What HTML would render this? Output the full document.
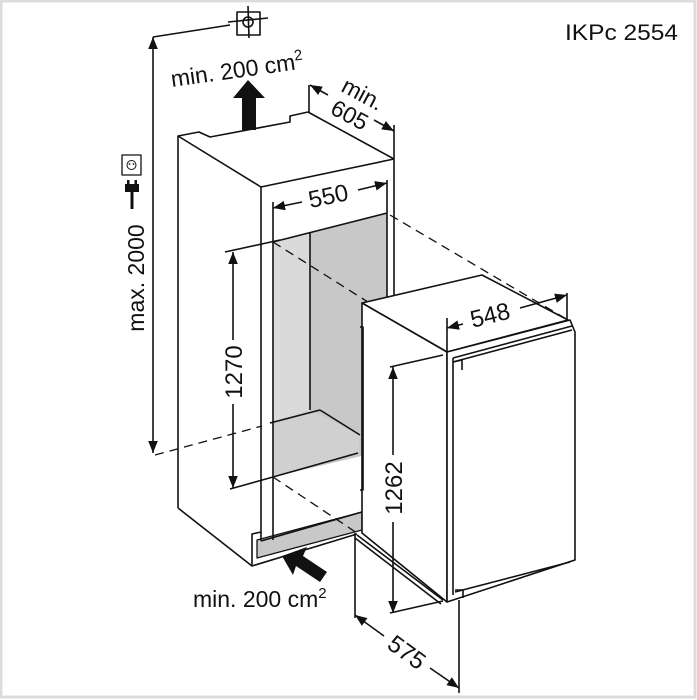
<!DOCTYPE html>
<html><head><meta charset="utf-8"><style>
html,body{margin:0;padding:0;background:#fff;}
svg{display:block;}
text{font-family:"Liberation Sans",Arial,sans-serif;fill:#111;}
</style></head><body>
<svg width="697" height="700" viewBox="0 0 697 700" xmlns="http://www.w3.org/2000/svg">
<defs>
<marker id="ah" viewBox="0 0 10 10" refX="10" refY="5" markerWidth="12" markerHeight="12" markerUnits="userSpaceOnUse" orient="auto-start-reverse">
<path d="M0,1 L10,5 L0,9 Z" fill="#111"/></marker>
</defs>
<rect x="0" y="0" width="697" height="700" fill="#fff"/>
<rect x="1" y="1" width="694" height="696" fill="none" stroke="#dcdcdc" stroke-width="3"/>

<g stroke="#111" stroke-width="1.6" fill="none" stroke-linejoin="round">
<polygon points="273,242 387,213 387,450 273,477" fill="#c8c8c8" stroke="none"/>
<polygon points="273,242 310,233 310,410 273,422" fill="#dadada" stroke="none"/>
<polygon points="310,410 360,435 358,453 273,477 273,422" fill="#d0d0d0" stroke="none"/>
<polygon points="257,540 362,512 362,530 257,558" fill="#c8c8c8" stroke="#111" stroke-width="1.3"/>

<polyline points="178,508 178,136 199,132 210,137 290,122 290,116 308,112 394,159"/>
<line x1="178" y1="136" x2="261" y2="187"/>
<line x1="261" y1="187" x2="394" y2="159"/>
<line x1="394" y1="159" x2="394" y2="298"/>
<line x1="387" y1="180" x2="387" y2="298"/>
<line x1="261" y1="187" x2="261" y2="541"/>
<line x1="273" y1="202" x2="273" y2="540"/>
<line x1="273" y1="242" x2="387" y2="213"/>
<line x1="310" y1="233" x2="310" y2="410"/>
<line x1="270" y1="423" x2="320" y2="410"/>
<line x1="320" y1="410" x2="360" y2="435"/>
<line x1="273" y1="477" x2="358" y2="453"/>
<polyline points="178,508 252,566 357,534"/>
<polyline points="252,566 252,534 261,532"/>
<line x1="261" y1="541" x2="362" y2="512"/>

<g stroke-dasharray="9,6" stroke-width="1.3">
<line x1="273" y1="242" x2="447" y2="352"/>
<line x1="390" y1="215" x2="568" y2="320"/>
<line x1="155" y1="455" x2="262" y2="426"/>
<line x1="273" y1="477" x2="360" y2="535"/>
</g>

<polygon points="362,303 482,275 568,320 447,352" fill="#fff" stroke="#111"/>
<polygon points="362,303 447,352 447,602 362,533" fill="#fff" stroke="#111"/>
<polygon points="447,352 570,320 575,332 575,560 447,602" fill="#fff" stroke="#111"/>
<line x1="453" y1="358" x2="572" y2="326"/>
<line x1="453" y1="362" x2="572" y2="330"/>
<line x1="453" y1="358" x2="453" y2="595"/>
<line x1="455" y1="592" x2="570" y2="562"/>
<polyline points="360,327 363,327 363,490 360,490"/>
<line x1="357" y1="535" x2="443" y2="600"/>
<line x1="355" y1="538" x2="441" y2="604"/>
<polyline points="453,362 462,360 462,370"/>
<polyline points="455,590 463,590 463,598"/>

<line x1="153" y1="453" x2="153" y2="37" marker-start="url(#ah)" marker-end="url(#ah)"/>
<line x1="153" y1="37" x2="230" y2="25"/>
<rect x="237" y="12" width="23" height="23"/>
<circle cx="248" cy="22" r="5"/>
<line x1="228" y1="22" x2="268" y2="18"/>
<line x1="248" y1="6" x2="249" y2="38"/>
<rect x="122" y="155" width="19" height="20" stroke-width="1.3"/>
<circle cx="131.5" cy="165" r="4.5" stroke-width="1"/>

<line x1="233" y1="252" x2="233" y2="340" marker-start="url(#ah)"/>
<line x1="233" y1="404" x2="233" y2="488" marker-end="url(#ah)"/>
<line x1="225" y1="252" x2="280" y2="240"/>
<line x1="230" y1="489" x2="273" y2="477"/>

<line x1="273" y1="208" x2="302" y2="202" marker-start="url(#ah)"/>
<line x1="358" y1="190" x2="387" y2="183" marker-end="url(#ah)"/>

<line x1="309" y1="85" x2="309" y2="112"/>
<line x1="394" y1="125" x2="394" y2="159"/>
<line x1="310" y1="85" x2="328" y2="95" marker-start="url(#ah)"/>
<line x1="374" y1="120" x2="394" y2="131" marker-end="url(#ah)"/>

<line x1="447" y1="318" x2="447" y2="352"/>
<line x1="567" y1="293" x2="567" y2="320"/>
<line x1="447" y1="328" x2="463" y2="324" marker-start="url(#ah)"/>
<line x1="520" y1="308" x2="567" y2="295" marker-end="url(#ah)"/>

<line x1="393" y1="367" x2="393" y2="455" marker-start="url(#ah)"/>
<line x1="393" y1="522" x2="393" y2="613" marker-end="url(#ah)"/>
<line x1="390" y1="367" x2="443" y2="355"/>
<line x1="390" y1="613" x2="443" y2="601"/>

<line x1="355" y1="533" x2="355" y2="618"/>
<line x1="459" y1="600" x2="459" y2="693"/>
<line x1="355" y1="615" x2="384" y2="636" marker-start="url(#ah)"/>
<line x1="430" y1="668" x2="459" y2="688" marker-end="url(#ah)"/>
</g>

<g fill="#111">
<rect x="125" y="184" width="14" height="8"/>
<rect x="127" y="180" width="2.5" height="5"/>
<rect x="134.5" y="180" width="2.5" height="5"/>
<rect x="130.5" y="191" width="3" height="18"/>
<circle cx="129.5" cy="164" r="0.9"/><circle cx="133.5" cy="164" r="0.9"/>
</g>

<polygon points="248,80 265,98 256,98 256,130 242,130 242,98 233,98" fill="#111"/>
<polygon points="282,556 307,547 303,556 327,572 320,582 296,566 293,575" fill="#111"/>

<text x="565" y="40" font-size="22" textLength="113" lengthAdjust="spacingAndGlyphs">IKPc 2554</text>
<text x="172" y="87" font-size="23" transform="rotate(-8 172 87)">min. 200 cm<tspan font-size="15" dy="-9">2</tspan></text>
<text x="193" y="607" font-size="23">min. 200 cm<tspan font-size="15" dy="-9">2</tspan></text>
<text x="0" y="0" font-size="23" text-anchor="middle" transform="translate(144,278) rotate(-90)">max. 2000</text>
<text x="0" y="0" font-size="24" text-anchor="middle" transform="translate(242,372) rotate(-90)">1270</text>
<text x="0" y="0" font-size="24" text-anchor="middle" transform="translate(402,488) rotate(-90)">1262</text>
<text x="0" y="0" font-size="24" text-anchor="middle" transform="translate(330,204) rotate(-12)">550</text>
<text x="0" y="0" font-size="24" text-anchor="middle" transform="translate(492,323) rotate(-14)">548</text>
<text x="0" y="0" font-size="23" text-anchor="middle" transform="translate(359,101) rotate(28)">min.</text>
<text x="0" y="0" font-size="23" text-anchor="middle" transform="translate(346,122) rotate(28)">605</text>
<text x="0" y="0" font-size="24" text-anchor="middle" transform="translate(402,659) rotate(36)">575</text>
</svg>
</body></html>
